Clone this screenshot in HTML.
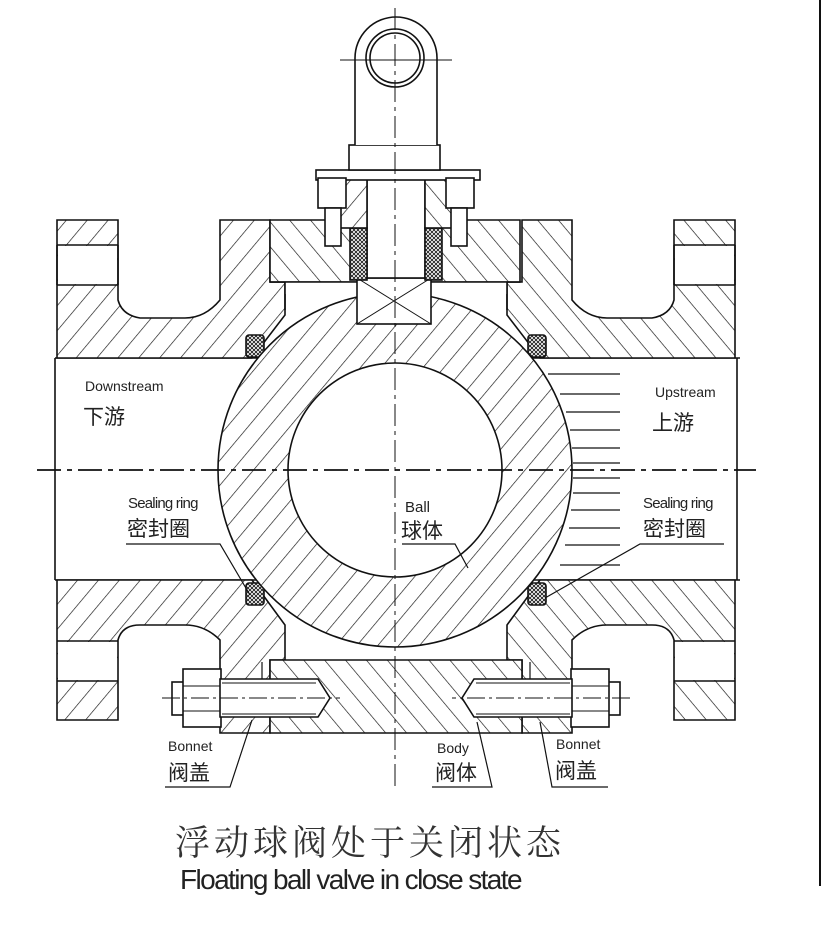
<!DOCTYPE html>
<html><head><meta charset="utf-8"><style>
html,body{margin:0;padding:0;background:#fff;}
svg{display:block;}
text{font-family:"Liberation Sans","Noto Sans CJK SC",sans-serif;fill:#222;}
</style></head><body>
<svg width="823" height="948" viewBox="0 0 823 948" xmlns="http://www.w3.org/2000/svg">
<defs>
<pattern id="h" patternUnits="userSpaceOnUse" width="16" height="16" patternTransform="rotate(40)">
<rect width="16" height="16" fill="#fff"/><line x1="0" y1="0" x2="0" y2="16" stroke="#111" stroke-width="1.3"/>
</pattern>
<pattern id="h2" patternUnits="userSpaceOnUse" width="16" height="16" patternTransform="rotate(-40)">
<rect width="16" height="16" fill="#fff"/><line x1="0" y1="0" x2="0" y2="16" stroke="#111" stroke-width="1.3"/>
</pattern>
<pattern id="x" patternUnits="userSpaceOnUse" width="4" height="4">
<rect width="4" height="4" fill="#fff"/><path d="M0 0L4 4M4 0L0 4" stroke="#111" stroke-width="0.8"/>
</pattern>
<g id="side" stroke="#111" stroke-width="1.6">
<path fill="url(#h)" d="M57 220H118V300Q122 315 140 318H185Q205 318 220 300V220H270V282H285V315L252 358H57Z"/>
<line x1="57" y1="245" x2="118" y2="245"/><line x1="57" y1="285" x2="118" y2="285"/>
<rect x="58" y="246" width="59" height="38" fill="#fff" stroke="none"/>
<line x1="57" y1="245" x2="57" y2="285"/><line x1="118" y1="245" x2="118" y2="285"/>
<path fill="url(#h)" d="M57 580H252L285 625V660H270V733H220V640Q205 625 185 625H140Q122 625 118 640V720H57Z"/>
<rect x="58" y="642" width="59" height="38" fill="#fff" stroke="none"/>
<line x1="57" y1="641" x2="118" y2="641"/><line x1="57" y1="681" x2="118" y2="681"/>
<rect x="246" y="335" width="18" height="22" fill="url(#x)" rx="3"/>
<rect x="246" y="583" width="18" height="22" fill="url(#x)" rx="3"/>
</g>
<g id="bolt" stroke="#111" stroke-width="1.6">
<rect x="172" y="682" width="12" height="33" fill="#fff"/>
<rect x="183" y="669" width="38" height="58" fill="#fff"/>
<line x1="183" y1="686" x2="221" y2="686" stroke-width="1"/><line x1="183" y1="711" x2="221" y2="711" stroke-width="1"/>
<path d="M220 679H318L330 698L318 717H220Z" fill="#fff"/>
<line x1="222" y1="683" x2="316" y2="683" stroke-width="1"/><line x1="222" y1="714" x2="316" y2="714" stroke-width="1"/>
<line x1="162" y1="698" x2="340" y2="698" stroke-width="1" stroke-dasharray="18,4,3,4"/>
<line x1="262" y1="662" x2="262" y2="679" stroke-width="1.2"/>
</g>
</defs>
<rect width="823" height="948" fill="#fff"/>
<line x1="820" y1="0" x2="820" y2="886" stroke="#111" stroke-width="2"/>

<g stroke="#111" stroke-width="1.6">
<line x1="55" y1="358" x2="740" y2="358"/><line x1="55" y1="580" x2="740" y2="580"/>
<line x1="55" y1="358" x2="55" y2="580"/><line x1="737" y1="358" x2="737" y2="580"/>
</g>
<use href="#side"/>
<g transform="translate(792,0) scale(-1,1)"><use href="#side"/></g>

<g stroke="#111" stroke-width="1.6">
<path fill="url(#h2)" d="M270 220H520V282H427V250H365V282H270Z"/>
<rect x="285" y="282" width="222" height="12" fill="#fff" stroke="none"/>
<line x1="285" y1="282" x2="285" y2="310"/><line x1="507" y1="282" x2="507" y2="310"/>
<line x1="270" y1="282" x2="520" y2="282"/>
<path fill="url(#h2)" d="M270 660H522V733H270Z"/>
<circle cx="395" cy="470" r="177" fill="url(#h)"/>
<circle cx="395" cy="470" r="107" fill="#fff"/>
<rect x="357" y="278" width="74" height="46" fill="#fff"/>
<path d="M357 278L431 324M431 278L357 324" stroke-width="1"/>
<rect x="367" y="175" width="58" height="103" fill="#fff"/>
<rect x="350" y="228" width="17" height="52" fill="url(#x)"/>
<rect x="425" y="228" width="17" height="52" fill="url(#x)"/>
<rect x="340" y="178" width="27" height="50" fill="url(#h)"/>
<rect x="425" y="178" width="27" height="50" fill="url(#h2)"/>
<rect x="316" y="170" width="164" height="10" fill="#fff"/>
<rect x="318" y="178" width="28" height="30" fill="#fff"/>
<rect x="446" y="178" width="28" height="30" fill="#fff"/>
<rect x="325" y="208" width="16" height="38" fill="#fff"/>
<rect x="451" y="208" width="16" height="38" fill="#fff"/>
<rect x="349" y="145" width="91" height="25" fill="#fff"/>
<path d="M355 145V58A40 40 0 0 1 437 58V145" fill="#fff"/>
<circle cx="395" cy="58" r="29" fill="none"/>
<circle cx="395" cy="58" r="25" fill="none"/>
<line x1="340" y1="60" x2="452" y2="60" stroke-width="1"/>
</g>
<use href="#bolt"/>
<g transform="translate(792,0) scale(-1,1)"><use href="#bolt"/></g>

<line x1="395" y1="8" x2="395" y2="790" stroke="#111" stroke-width="1" stroke-dasharray="22,5,4,5"/>
<line x1="37" y1="470" x2="756" y2="470" stroke="#111" stroke-width="1.8" stroke-dasharray="24,6,5,6"/>
<g stroke="#111" stroke-width="1.3">
<line x1="548" y1="374" x2="620" y2="374"/><line x1="560" y1="394" x2="620" y2="394"/>
<line x1="566" y1="412" x2="620" y2="412"/><line x1="570" y1="430" x2="620" y2="430"/>
<line x1="572" y1="448" x2="620" y2="448"/><line x1="573" y1="463" x2="620" y2="463"/>
<line x1="573" y1="478" x2="620" y2="478"/><line x1="573" y1="493" x2="620" y2="493"/>
<line x1="571" y1="510" x2="620" y2="510"/><line x1="569" y1="528" x2="620" y2="528"/>
<line x1="565" y1="545" x2="620" y2="545"/><line x1="560" y1="565" x2="620" y2="565"/>
</g>
<g stroke="#111" stroke-width="1.2" fill="none">
<path d="M126 544H220L250 595"/><path d="M402 544H455L468 568"/>
<path d="M724 544H640L545 598"/>
<path d="M165 787H230L252 720"/><path d="M432 787H492L477 722"/>
<path d="M608 787H552L540 722"/>
</g>
<text x="85" y="391" font-size="14">Downstream</text>
<text x="83" y="424" font-size="21">下游</text>
<text x="655" y="397" font-size="14">Upstream</text>
<text x="652" y="430" font-size="21">上游</text>
<text x="128" y="508" font-size="15" letter-spacing="-0.8">Sealing ring</text>
<text x="127" y="536" font-size="21">密封圈</text>
<text x="405" y="512" font-size="15">Ball</text>
<text x="401" y="538" font-size="21">球体</text>
<text x="643" y="508" font-size="15" letter-spacing="-0.8">Sealing ring</text>
<text x="643" y="536" font-size="21">密封圈</text>
<text x="168" y="751" font-size="14">Bonnet</text>
<text x="168" y="780" font-size="21">阀盖</text>
<text x="437" y="753" font-size="14">Body</text>
<text x="435" y="780" font-size="21">阀体</text>
<text x="556" y="749" font-size="14">Bonnet</text>
<text x="555" y="778" font-size="21">阀盖</text>
<text x="175" y="855" font-size="35" style="font-family:'Noto Serif CJK SC',serif;fill:#333" letter-spacing="4">浮动球阀处于关闭状态</text>
<text x="180" y="889" font-size="28" letter-spacing="-1.6" fill="#111">Floating ball valve in close state</text>
</svg>
</body></html>
